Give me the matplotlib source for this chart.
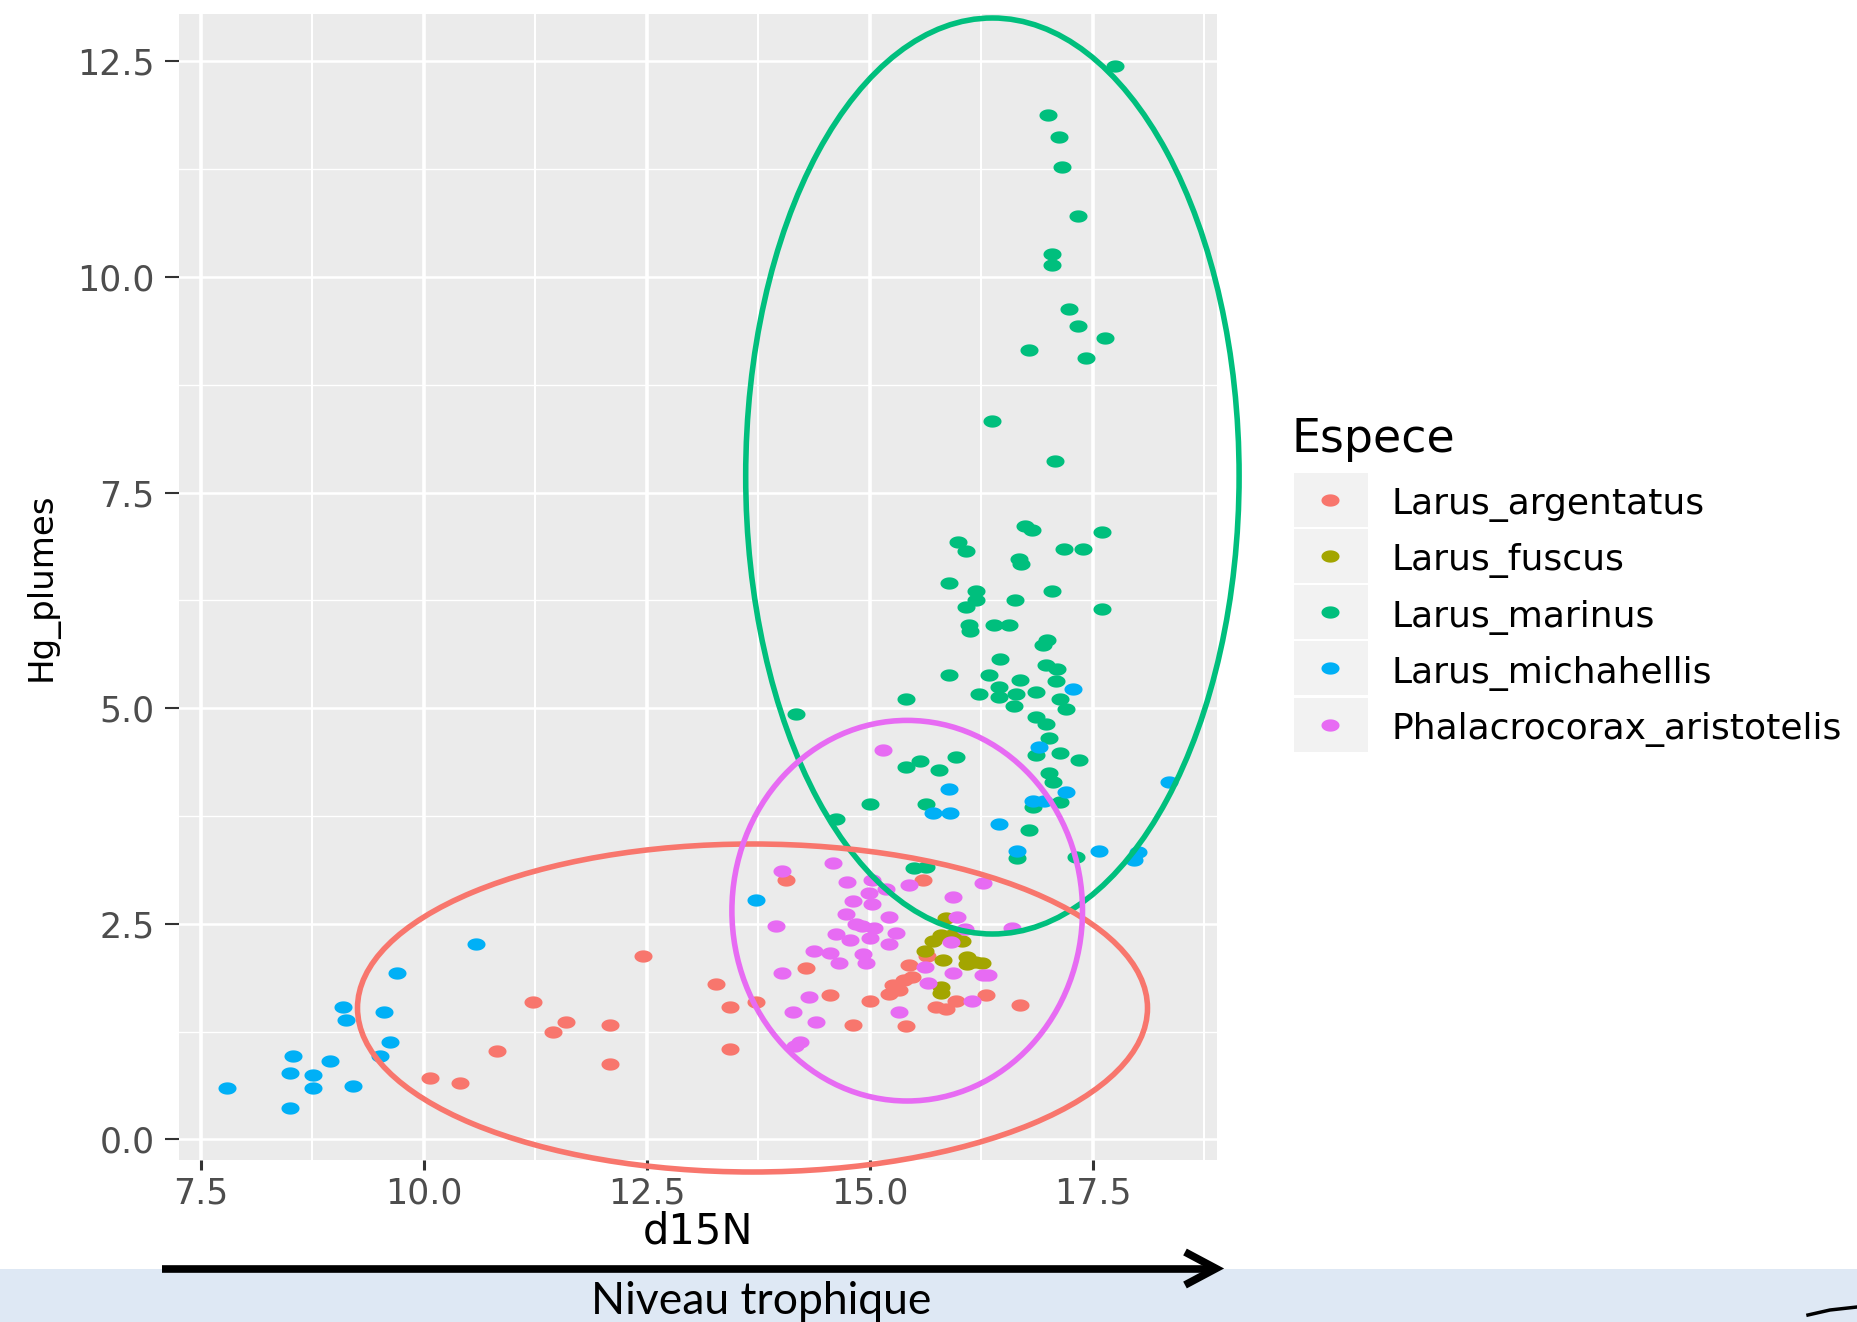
import numpy as np
import matplotlib
matplotlib.use("Agg")
import matplotlib.pyplot as plt
from matplotlib.path import Path
from matplotlib.patches import Ellipse, Rectangle

plt.rcParams["font.family"] = ["DejaVu Sans"]

# ── données ────────────────────────────────────────────────────────────────
especes = ["Larus_argentatus", "Larus_fuscus", "Larus_marinus",
           "Larus_michahellis", "Phalacrocorax_aristotelis"]
couleurs = ["#F8766D", "#A3A500", "#00BF7D", "#00B0F6", "#E76BF3"]

argentatus_d15n = [10.07, 10.41, 10.82, 11.23, 11.45, 11.60, 12.09, 12.09, 12.46, 13.28,
                   13.43, 13.43, 13.73, 14.06, 14.29, 14.55, 14.81, 15.00, 15.22, 15.26,
                   15.33, 15.38, 15.41, 15.44, 15.47, 15.60, 15.64, 15.74, 15.86, 15.97,
                   16.30, 16.68]
argentatus_hg = [0.71, 0.65, 1.02, 1.59, 1.25, 1.36, 1.33, 0.87, 2.13, 1.80,
                 1.54, 1.05, 1.59, 3.01, 1.99, 1.68, 1.33, 1.61, 1.69, 1.79,
                 1.73, 1.85, 1.31, 2.02, 1.88, 3.01, 2.13, 1.54, 1.51, 1.61,
                 1.67, 1.56]

fuscus_d15n = [15.86, 15.71, 15.80, 15.92, 16.03, 15.62, 15.82, 16.09, 16.09, 16.26,
               15.80, 15.80, 16.18]
fuscus_hg = [2.57, 2.30, 2.37, 2.37, 2.30, 2.19, 2.08, 2.11, 2.03, 2.05,
             1.77, 1.70, 2.06]

marinus_d15n = [17.75, 17.00, 17.12, 17.16, 17.34, 17.04, 17.04, 17.23, 17.34, 17.64,
                16.78, 17.42, 16.37, 17.08, 16.74, 16.82, 17.60, 15.99, 16.08, 17.18,
                17.39, 16.67, 16.70, 15.89, 16.19, 17.04, 16.19, 16.63, 16.08, 17.60,
                16.11, 16.12, 16.39, 16.56, 16.99, 16.94, 16.46, 16.98, 17.10, 15.89,
                16.34, 16.68, 17.09, 16.45, 16.23, 16.86, 16.64, 16.45, 15.41, 17.13,
                16.62, 17.20, 14.17, 16.86, 16.98, 17.01, 16.86, 17.13, 17.35, 15.41,
                15.56, 15.78, 15.97, 17.01, 17.05, 15.00, 15.63, 17.13, 16.83, 14.62,
                16.79, 16.65, 17.31, 15.50, 15.63]
marinus_hg = [12.44, 11.88, 11.62, 11.28, 10.71, 10.26, 10.14, 9.63, 9.43, 9.29,
              9.15, 9.06, 8.33, 7.87, 7.11, 7.07, 7.04, 6.93, 6.82, 6.85,
              6.85, 6.73, 6.67, 6.45, 6.36, 6.36, 6.25, 6.25, 6.17, 6.15,
              5.97, 5.90, 5.97, 5.96, 5.79, 5.73, 5.57, 5.50, 5.45, 5.39,
              5.39, 5.33, 5.31, 5.25, 5.16, 5.19, 5.17, 5.13, 5.11, 5.11,
              5.03, 4.99, 4.93, 4.90, 4.82, 4.65, 4.46, 4.48, 4.40, 4.32,
              4.39, 4.28, 4.43, 4.25, 4.14, 3.89, 3.89, 3.91, 3.86, 3.72,
              3.59, 3.26, 3.27, 3.15, 3.16]

michahellis_d15n = [7.79, 8.50, 8.50, 8.54, 8.76, 8.76, 8.95, 9.10, 9.13, 9.21,
                    9.51, 9.55, 9.62, 9.70, 10.59, 13.73, 15.71, 15.90, 15.89, 16.45,
                    16.65, 16.90, 16.83, 16.95, 17.20, 17.28, 17.57, 17.96, 18.01, 18.36]
michahellis_hg = [0.60, 0.37, 0.77, 0.97, 0.75, 0.60, 0.91, 1.53, 1.39, 0.62,
                  0.97, 1.48, 1.13, 1.93, 2.27, 2.78, 3.78, 3.78, 4.06, 3.66,
                  3.35, 4.55, 3.92, 3.92, 4.03, 5.22, 3.35, 3.24, 3.33, 4.14]

phalacrocorax_d15n = [15.15, 16.27, 15.93, 15.98, 16.60, 16.07, 15.93, 16.27, 16.33, 15.62,
                      15.65, 16.15, 15.91, 14.59, 14.02, 14.74, 15.02, 14.99, 15.18, 15.44,
                      14.81, 15.03, 14.73, 15.22, 13.95, 14.91, 14.85, 15.05, 14.62, 15.30,
                      14.78, 15.00, 15.22, 14.37, 14.55, 14.92, 14.66, 14.96, 14.02, 14.32,
                      14.14, 14.40, 15.33, 14.22, 14.16]
phalacrocorax_hg = [4.51, 2.97, 2.81, 2.58, 2.45, 2.44, 1.93, 1.91, 1.91, 2.00,
                    1.81, 1.61, 2.29, 3.21, 3.11, 2.98, 3.01, 2.86, 2.90, 2.95,
                    2.77, 2.73, 2.61, 2.58, 2.47, 2.47, 2.50, 2.45, 2.38, 2.39,
                    2.31, 2.33, 2.27, 2.18, 2.16, 2.15, 2.05, 2.05, 1.93, 1.65,
                    1.48, 1.36, 1.48, 1.13, 1.08]

series_x = [argentatus_d15n, fuscus_d15n, marinus_d15n, michahellis_d15n, phalacrocorax_d15n]
series_y = [argentatus_hg, fuscus_hg, marinus_hg, michahellis_hg, phalacrocorax_hg]

x_ticks = [7.5, 10.0, 12.5, 15.0, 17.5]
y_ticks = [0.0, 2.5, 5.0, 7.5, 10.0, 12.5]

# ── mise en page (pixels de l'image) ──────────────────────────────────────
W, H = 1857, 1322
fig = plt.figure(figsize=(W / 100, H / 100), dpi=100)
fig.patch.set_facecolor("white")

px_l, px_r, px_t, px_b = 179.4, 1216.6, 14.4, 1159.6
ax = fig.add_axes([px_l / W, 1 - px_b / H, (px_r - px_l) / W, (px_b - px_t) / H])
ax.set_facecolor("#EBEBEB")
for s in ax.spines.values():
    s.set_visible(False)

# point de ggplot étiré horizontalement dans la capture -> marqueur ovale
t = np.linspace(0, 2 * np.pi, 60)
ovale = Path(np.column_stack([np.cos(t), 0.68 * np.sin(t)]), closed=True)

for xs, ys, c in zip(series_x, series_y, couleurs):
    ax.plot(xs, ys, ls="none", marker=ovale, ms=13, mfc=c, mec="none", zorder=3)

# limites façon ggplot (expansion de 5 %)
all_x = np.concatenate([np.array(v) for v in series_x])
all_y = np.concatenate([np.array(v) for v in series_y])
dx = 0.05 * (all_x.max() - all_x.min())
dy = 0.05 * (all_y.max() - all_y.min())
ax.set_xlim(all_x.min() - dx, all_x.max() + dx)
ax.set_ylim(all_y.min() - dy, all_y.max() + dy)

ax.set_xticks(x_ticks)
ax.set_xticklabels([f"{v:.1f}" for v in x_ticks])
ax.set_yticks(y_ticks)
ax.set_yticklabels([f"{v:.1f}" for v in y_ticks])
ax.set_xticks([v + 1.25 for v in x_ticks], minor=True)
ax.set_yticks([v + 1.25 for v in y_ticks[:-1]], minor=True)

ax.grid(axis="x", which="major", color="white", lw=2.6)
ax.grid(axis="x", which="minor", color="white", lw=1.5)
ax.grid(axis="y", which="major", color="white", lw=1.8)
ax.grid(axis="y", which="minor", color="white", lw=1.0)
ax.set_axisbelow(True)

ax.tick_params(axis="y", which="major", length=10, width=1.5, color="#333333",
               labelsize=25, labelcolor="#4D4D4D", pad=8)
ax.tick_params(axis="x", which="major", length=7, width=2.2, color="#333333",
               labelsize=25, labelcolor="#4D4D4D", pad=5)
ax.tick_params(which="minor", length=0)

ax.set_xlabel("d15N", fontsize=30, color="black", va="baseline")
ax.xaxis.set_label_coords(0.5, (px_b - 1243.4) / (px_b - px_t))
ax.set_ylabel("Hg_plumes", fontsize=24.5, color="black", va="center")
ax.yaxis.set_label_coords((41.5 - px_l) / (px_r - px_l), 0.5)

# ── calque en pixels : ellipses, légende, flèche ─────────────────────────
ov = fig.add_axes([0, 0, 1, 1], zorder=5)
ov.set_xlim(0, W)
ov.set_ylim(H, 0)
ov.axis("off")
ov.patch.set_alpha(0)

# ellipses tracées à la main sur la capture
ov.add_patch(Ellipse((992.4, 476.0), 2 * 246.7, 2 * 458.0, fill=False, ec="#00BF7D", lw=4))
ov.add_patch(Ellipse((752.5, 1008.0), 2 * 395.0, 2 * 164.0, fill=False, ec="#F8766D", lw=4))
ov.add_patch(Ellipse((907.2, 910.7), 2 * 175.3, 2 * 190.3, fill=False, ec="#E76BF3", lw=4))

# légende
ov.text(1291, 452, "Espece", fontsize=33, color="black", va="baseline", ha="left")
for i, (nom, c) in enumerate(zip(especes, couleurs)):
    y0 = 472.5 + i * 56.3
    ov.add_patch(Rectangle((1294, y0), 74, 54, fc="#F2F2F2", ec="none"))
    ov.plot([1330], [y0 + 27], ls="none", marker=ovale, ms=13, mfc=c, mec="none")
    ov.text(1391.6, y0 + 41.5, nom, fontsize=26, color="black", va="baseline", ha="left")

# bandeau et flèche "Niveau trophique"
ov.add_patch(Rectangle((0, 1269), W, H - 1269, fc="#DEE8F4", ec="none", zorder=1))
ov.plot([162, 1212], [1268.5, 1268.5], color="black", lw=5.5, solid_capstyle="butt", zorder=3)
ov.plot([1185, 1216, 1185], [1252, 1268.5, 1285], color="black", lw=5.5,
        solid_joinstyle="miter", solid_capstyle="butt", zorder=3)
ov.text(761.5, 1314, "Niveau trophique", fontsize=32, family="Lato", color="black",
        ha="center", va="baseline", zorder=4)
ov.plot([1808, 1830, 1857], [1315, 1310, 1307], color="black", lw=2.5, zorder=3)

fig.savefig("out.png", dpi=100)
